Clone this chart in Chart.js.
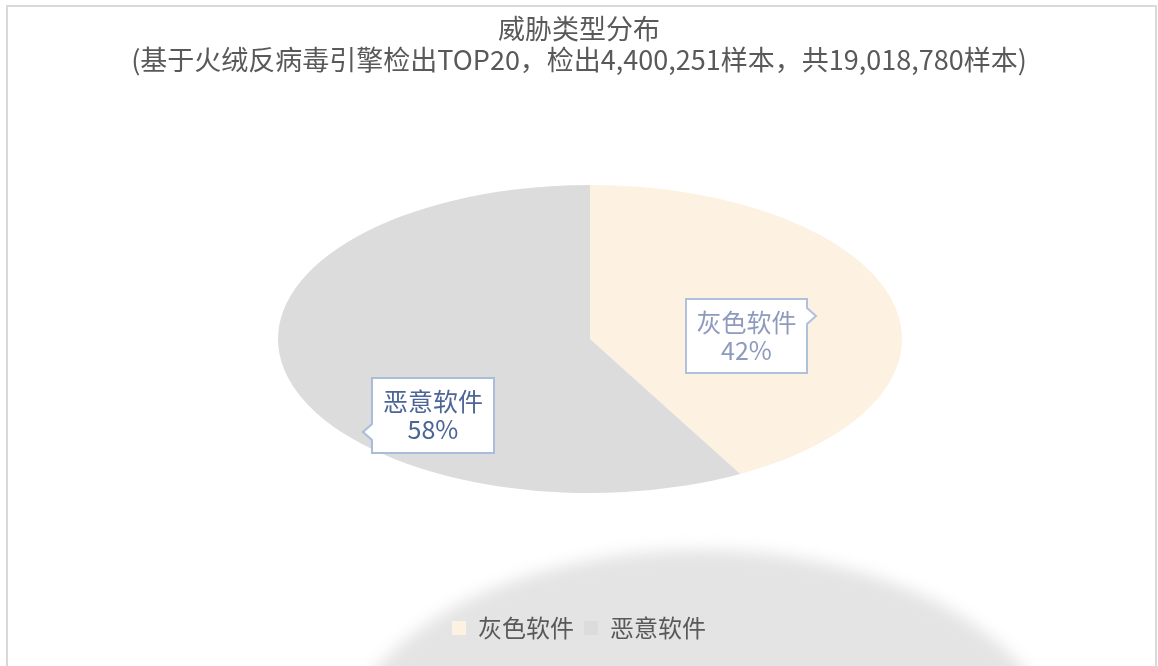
<!DOCTYPE html>
<html>
<head>
<meta charset="utf-8">
<script src="https://cdn.jsdelivr.net/npm/chart.js@4.4.0/dist/chart.umd.min.js"></script>
<style>
  body { margin: 0; background: #fff; }
  canvas { display: block; }
</style>
</head>
<body>
<canvas id="pie" width="1158" height="666"></canvas>
<script>
// data
const categories = ["灰色软件", "恶意软件"];
const shares = [42, 58];
const sliceColors = ["#FDF1E2", "#DDDCDD"];
const titleLines = ["威胁类型分布", "(基于火绒反病毒引擎检出TOP20，检出4,400,251样本，共19,018,780样本)"];

const FONT = "'Noto Sans CJK SC', 'Noto Sans', sans-serif";

// frame + blurred floor shadow, drawn before everything else
const backdrop = {
  id: "backdrop",
  beforeDraw(chart) {
    const ctx = chart.ctx;
    ctx.save();
    ctx.strokeStyle = "#D9D9D9";
    ctx.lineWidth = 2;
    ctx.strokeRect(7, 6, 1149, 700);
    ctx.filter = "blur(8px)";
    ctx.fillStyle = "#E4E4E4";
    ctx.beginPath();
    ctx.ellipse(700, 762, 360, 212, 0, 0, Math.PI * 2);
    ctx.fill();
    ctx.restore();
  }
};

// squash the pie into an ellipse (3d look)
const ellipse = {
  id: "ellipse",
  beforeDatasetsDraw(chart, args, opts) {
    const arc = chart.getDatasetMeta(0).data[0];
    const r = arc.outerRadius;
    const ctx = chart.ctx;
    ctx.save();
    ctx.translate(opts.cx, opts.cy);
    ctx.scale(opts.rx / r, opts.ry / r);
    ctx.translate(-arc.x, -arc.y);
  },
  afterDatasetsDraw(chart) {
    chart.ctx.restore();
  }
};

// callout labels
const callouts = {
  id: "callouts",
  afterDatasetsDraw(chart, args, opts) {
    const ctx = chart.ctx;
    const total = shares.reduce((a, b) => a + b, 0);
    opts.boxes.forEach((b, i) => {
      const pct = Math.round(shares[i] / total * 100) + "%";
      ctx.save();
      ctx.fillStyle = "#fff";
      ctx.strokeStyle = b.border;
      ctx.lineWidth = 2;
      ctx.beginPath();
      const x0 = b.x, y0 = b.y, x1 = b.x + b.w, y1 = b.y + b.h;
      if (b.side === "right") {
        ctx.moveTo(x0, y0); ctx.lineTo(x1, y0);
        ctx.lineTo(x1, b.py - 8); ctx.lineTo(x1 + 9, b.py); ctx.lineTo(x1, b.py + 8);
        ctx.lineTo(x1, y1); ctx.lineTo(x0, y1);
      } else {
        ctx.moveTo(x0, y0); ctx.lineTo(x1, y0); ctx.lineTo(x1, y1); ctx.lineTo(x0, y1);
        ctx.lineTo(x0, b.py + 8); ctx.lineTo(x0 - 9, b.py); ctx.lineTo(x0, b.py - 8);
      }
      ctx.closePath();
      ctx.fill();
      ctx.stroke();
      ctx.fillStyle = b.color;
      ctx.font = "25px " + FONT;
      ctx.textAlign = "center";
      ctx.textBaseline = "middle";
      const cx = b.x + b.w / 2;
      ctx.fillText(categories[i], cx, b.y + 23);
      ctx.fillText(pct, cx, b.y + 51);
      ctx.restore();
    });
  }
};

new Chart(document.getElementById("pie"), {
  type: "pie",
  data: {
    labels: categories,
    datasets: [{
      data: shares,
      backgroundColor: sliceColors,
      borderWidth: 0
    }]
  },
  options: {
    responsive: false,
    animation: false,
    events: [],
    layout: { padding: { bottom: 16 } },
    plugins: {
      tooltip: { enabled: false },
      title: {
        display: true,
        text: titleLines,
        color: "#595959",
        font: { family: FONT, size: 27, weight: "normal", lineHeight: 1.12 },
        padding: { top: 14, bottom: 10 }
      },
      legend: {
        position: "bottom",
        labels: {
          color: "#595959",
          font: { family: FONT, size: 24 },
          boxWidth: 14,
          boxHeight: 14,
          padding: 10
        }
      },
      ellipse: { cx: 590, cy: 339, rx: 312, ry: 154 },
      callouts: {
        boxes: [
          { x: 686, y: 299, w: 121, h: 74, py: 316, side: "right", border: "#AFC1DD", color: "#8E9BBE" },
          { x: 372, y: 378, w: 122, h: 75, py: 432, side: "left", border: "#A9BCD9", color: "#4D6596" }
        ]
      }
    }
  },
  plugins: [backdrop, ellipse, callouts]
});
</script>
</body>
</html>
